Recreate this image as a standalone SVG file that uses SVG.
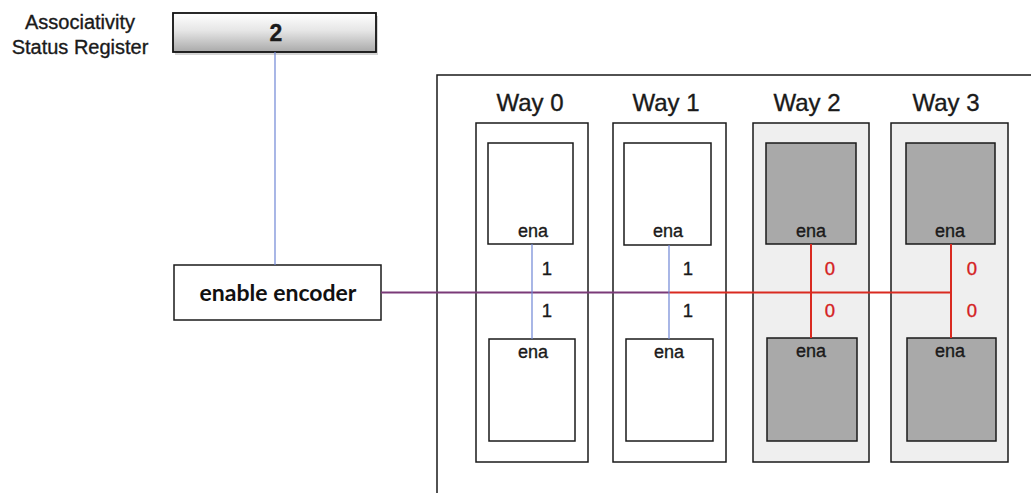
<svg xmlns="http://www.w3.org/2000/svg" width="1031" height="493" viewBox="0 0 1031 493">
  <defs>
    <linearGradient id="regFill" x1="0" y1="0" x2="0" y2="1">
      <stop offset="0" stop-color="#ffffff"/>
      <stop offset="0.45" stop-color="#e6e6e6"/>
      <stop offset="1" stop-color="#a9a9a9"/>
    </linearGradient>
  </defs>
  <style>
    .box { fill: #ffffff; stroke: #1a1a1a; stroke-width: 1.5; }
    .way { fill: #ffffff; stroke: #1a1a1a; stroke-width: 1.5; }
    .way.off { fill: #efefef; }
    .bank { fill: #ffffff; stroke: #1a1a1a; stroke-width: 1.5; }
    .bank.off { fill: #a9a9a9; }
    .lbl { font-family: "Liberation Sans", Arial, sans-serif; fill: #1a1a1a; stroke: #1a1a1a; stroke-width: 0.35; }
    .title { font-size: 24px; text-anchor: middle; }
    .ena { font-size: 18px; text-anchor: middle; }
    .bit { font-size: 18.5px; text-anchor: middle; }
    .bit0 { fill: #d42020; stroke: #d42020; }
    .blue { stroke: #6f86d6; stroke-width: 1.2; fill: none; }
    .red { stroke: #d92a20; stroke-width: 2; fill: none; }
    .mix { stroke: #7a3a78; stroke-width: 2.2; fill: none; }
  </style>

  <!-- register -->
  <g id="status-register">
    <text class="lbl" x="80" y="29" font-size="20" text-anchor="middle">Associativity</text>
    <text class="lbl" x="80" y="54" font-size="20" text-anchor="middle">Status Register</text>
    <rect x="175" y="16" width="203" height="39" fill="#888" opacity="0.35"/>
    <rect x="173" y="13" width="203" height="39" fill="url(#regFill)" stroke="#111" stroke-width="1.8"/>
    <text class="lbl" x="276" y="41" font-size="23" font-weight="bold" text-anchor="middle">2</text>
  </g>

  <!-- encoder -->
  <g id="enable-encoder">
    <rect class="box" x="174" y="265" width="207" height="55"/>
    <text x="278" y="301" font-family="Lato, 'Open Sans', sans-serif" font-size="23" font-weight="bold" fill="#111" text-anchor="middle">enable encoder</text>
  </g>

  <!-- cache frame -->
  <g id="cache">
    <path d="M437 493 V75 H1031" fill="none" stroke="#1a1a1a" stroke-width="1.5"/>
  </g>

  <!-- ways -->
  <g id="way0">
    <text class="lbl title" x="530" y="111">Way 0</text>
    <rect class="way" x="476" y="123" width="112" height="339"/>
    <rect class="bank" x="488" y="143" width="85" height="101"/>
    <rect class="bank" x="489" y="339" width="86" height="102"/>
    <text class="lbl ena" x="533" y="237">ena</text>
    <text class="lbl ena" x="533" y="358">ena</text>
  </g>
  <g id="way1">
    <text class="lbl title" x="666" y="111">Way 1</text>
    <rect class="way" x="613" y="123" width="113" height="339"/>
    <rect class="bank" x="624" y="143" width="87" height="102"/>
    <rect class="bank" x="626" y="339" width="87" height="102"/>
    <text class="lbl ena" x="668" y="237">ena</text>
    <text class="lbl ena" x="669" y="358">ena</text>
  </g>
  <g id="way2">
    <text class="lbl title" x="807" y="111">Way 2</text>
    <rect class="way off" x="753" y="123" width="116" height="339"/>
    <rect class="bank off" x="766" y="143" width="90" height="101"/>
    <rect class="bank off" x="767" y="338" width="90" height="103"/>
    <text class="lbl ena" x="811" y="237">ena</text>
    <text class="lbl ena" x="811" y="357">ena</text>
  </g>
  <g id="way3">
    <text class="lbl title" x="946" y="111">Way 3</text>
    <rect class="way off" x="891" y="123" width="117" height="339"/>
    <rect class="bank off" x="906" y="143" width="89" height="101"/>
    <rect class="bank off" x="907" y="338" width="89" height="103"/>
    <text class="lbl ena" x="950" y="237">ena</text>
    <text class="lbl ena" x="950" y="357">ena</text>
  </g>

  <!-- enable lines -->
  <g id="connectors">
    <line class="blue" x1="275" y1="52" x2="275" y2="265"/>
    <line class="mix" x1="381" y1="292.5" x2="669" y2="292.5"/>
    <line class="red" x1="669" y1="292.5" x2="951" y2="292.5"/>
    <line class="blue" x1="532" y1="244" x2="532" y2="339"/>
    <line class="blue" x1="669" y1="245" x2="669" y2="339"/>
    <line class="red" x1="811" y1="244" x2="811" y2="338"/>
    <line class="red" x1="951" y1="244" x2="951" y2="338"/>
  </g>

  <!-- enable values -->
  <g id="bits">
    <text class="lbl bit" x="547" y="275">1</text>
    <text class="lbl bit" x="547" y="317">1</text>
    <text class="lbl bit" x="688" y="275">1</text>
    <text class="lbl bit" x="688" y="317">1</text>
    <text class="lbl bit bit0" x="830" y="275">0</text>
    <text class="lbl bit bit0" x="830" y="317">0</text>
    <text class="lbl bit bit0" x="972" y="275">0</text>
    <text class="lbl bit bit0" x="972" y="317">0</text>
  </g>
</svg>
